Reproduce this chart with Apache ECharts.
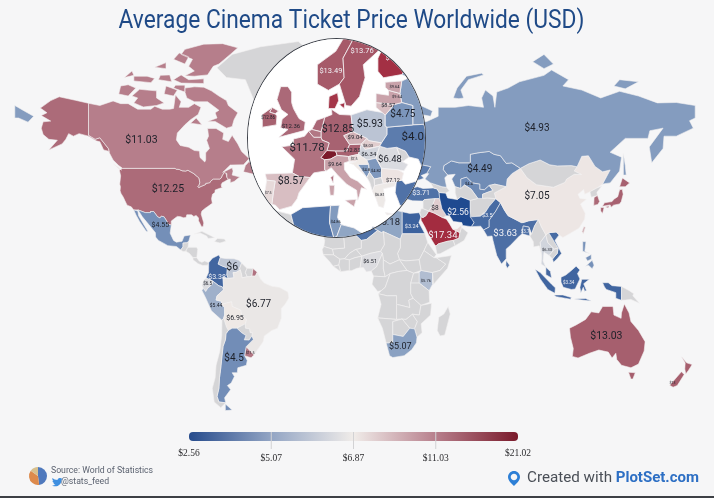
<!DOCTYPE html>
<html>
<head>
<meta charset="utf-8">
<title>Average Cinema Ticket Price Worldwide</title>
<script src="https://cdn.jsdelivr.net/npm/echarts@6/dist/echarts.min.js"></script>
<style>
  html, body { margin: 0; padding: 0; background: #f6f6f7; }
  #main { position: absolute; left: 0; top: 0; width: 714px; height: 498px; }
  #lens { position: absolute; left: 247px; top: 38px; width: 179px; height: 200px; box-sizing: border-box;
          border: 1.5px solid #3c4048; border-radius: 50%; overflow: hidden; background: #fff; }
  #inset { position: absolute; left: -1.5px; top: -1.5px; width: 179px; height: 200px; }
</style>
</head>
<body>
<div id="main"></div>
<div id="lens"><div id="inset"></div></div>
<script>
// prices (USD)
var priceNames = ['Canada', 'USA', 'Mexico', 'Colombia', 'Venezuela', 'Ecuador', 'Peru', 'Brazil', 'Bolivia', 'Argentina', 'Uruguay', 'French Guiana',
    'Algeria', 'Tunisia', 'Libya', 'Egypt', 'Nigeria', 'Kenya', 'South Africa',
    'Saudi Arabia', 'Iraq', 'Iran', 'UAE', 'Turkey', 'Pakistan', 'India', 'Bangladesh', 'Sri Lanka',
    'Russia', 'Kazakhstan', 'Uzbekistan', 'China', 'Taiwan', 'South Korea', 'Japan', 'Thailand', 'Vietnam', 'Malaysia', 'Indonesia', 'Philippines',
    'Australia', 'New Zealand',
    'Norway', 'Sweden', 'Finland', 'Denmark', 'Estonia', 'Latvia', 'Lithuania', 'UK', 'Ireland', 'France', 'Germany', 'Netherlands', 'Belgium', 'Switzerland', 'Austria',
    'Spain', 'Portugal', 'Italy', 'Poland', 'Czechia', 'Slovakia', 'Hungary', 'Slovenia', 'Croatia', 'Bosnia', 'Serbia', 'Romania', 'Bulgaria', 'Greece', 'Belarus', 'Ukraine'];
var priceValues = [11.03, 12.25, 4.55, 3.38, 6, 6.5, 5.44, 6.77, 6.95, 4.5, 11.5, 11.78,
    3.7, 4.86, 5.18, 3.24, 6.51, 5.76, 5.07,
    17.34, 8, 2.56, 7.6, 3.71, 3.5, 3.63, 3.7, 3.6,
    4.93, 4.49, 4.4, 7.05, 9, 12.4, 12.9, 6.33, 3.5, 3.4, 3.34, 4.6,
    13.03, 13,
    13.49, 13.76, 17, 16.5, 9.64, 9.64, 8.57, 12.36, 12.86, 11.78, 12.85, 12.5, 11.5, 21.02, 12.83,
    8.57, 7.5, 9.64, 5.93, 9.04, 8.03, 6.34, 7.5, 6.9, 4.8, 4.82, 6.48, 7.12, 6.81, 4.75, 4];
var priceTexts = { 'Ukraine': '$4.0' };

// colour scale breaks
var colorBreaks = [2.56, 5.07, 6.87, 11.03, 13.03, 17.34, 21.02];
var colorValues = ['#1f4a90', '#8aa1c2', '#f0ebe8', '#b67e8b', '#a65f6e', '#a32c40', '#7b1a2b'];

var legendLabels = ['$2.56', '$5.07', '$6.87', '$11.03', '$21.02'];
var legendColors = ['#264b8c', '#93a5c4', '#f0ece9', '#b77f8c', '#7a1a2b'];

// label anchors [lon, lat] and font sizes, world map
var worldLabels = {
    'Canada': [-113, 58.7, 10.5], 'USA': [-99, 40.8, 10.5], 'Mexico': [-103, 25.6, 7], 'Colombia': [-73, 2, 7], 'Venezuela': [-65, 6.5, 10.5],
    'Ecuador': [-78, -1.5, 4.5], 'Peru': [-73.5, -11.7, 5], 'Brazil': [-51, -11, 10], 'Bolivia': [-63.5, -17.6, 7], 'Argentina': [-64, -35, 10], 'Uruguay': [-55.5, -33, 3.5],
    'Libya': [17.5, 27, 9.5], 'Egypt': [30, 25, 5.5], 'Nigeria': [8, 9, 5.5], 'Kenya': [37.5, 0, 4], 'South Africa': [24, -30, 9],
    'Saudi Arabia': [46.5, 21, 9.5], 'Iraq': [42.3, 33, 6.5], 'Iran': [54.5, 31.3, 8.5], 'Turkey': [35, 39.5, 7], 'Pakistan': [70, 30, 5.5], 'India': [79.5, 22, 9.5], 'Bangladesh': [90, 23, 4.5],
    'Russia': [96.3, 62.5, 10], 'Kazakhstan': [66, 48.5, 10], 'Uzbekistan': [60.3, 43, 4], 'China': [96.3, 38, 10], 'Thailand': [101.6, 14.5, 4], 'Indonesia': [113, -1, 4.5],
    'Australia': [133, -25.6, 10.5], 'New Zealand': [168, -45, 3.5]
};
// label anchors [lon, lat] and font sizes, magnified Europe
var insetLabels = {
    'France': [2.2, 48, 11.5], 'Germany': [10.6, 51.5, 10.5], 'Spain': [-2.2, 41.7, 10.5], 'UK': [-2.2, 52, 6], 'Ireland': [-8.4, 53.5, 4.5],
    'Norway': [8.7, 61, 7.5], 'Sweden': [17.2, 64, 7.5], 'Finland': [25.3, 63, 7.5], 'Estonia': [26, 58.6, 4], 'Latvia': [26.7, 57, 4], 'Lithuania': [24.3, 55.5, 5.5],
    'Poland': [19.3, 52.3, 10.5], 'Belarus': [28.3, 54, 10], 'Ukraine': [31, 50, 11.5], 'Czechia': [15.3, 50, 6], 'Austria': [14.4, 47.5, 5.5], 'Italy': [9.8, 45, 5.5],
    'Slovakia': [18.8, 48.5, 4], 'Hungary': [19, 46.9, 6], 'Romania': [24.8, 46, 9.5], 'Slovenia': [15, 46, 3.5], 'Bosnia': [18.3, 44, 4], 'Serbia': [21, 43.7, 4],
    'Bulgaria': [25.6, 42, 5.5], 'Greece': [22, 39, 4], 'Portugal': [-8.4, 39.5, 3.5], 'Tunisia': [10, 33.5, 4]
};
var lightLabels = ['Colombia', 'Egypt', 'Saudi Arabia', 'Iran', 'Turkey', 'Pakistan', 'India', 'Bangladesh', 'Indonesia', 'Norway', 'Sweden', 'Finland'];

// rough country outlines, [lon, lat]
var outlines = {
    'USA': [[[-124.7,48.4],[-123,49],[-95.2,49],[-94.6,48.7],[-93,48.6],[-91.5,48.1],[-89.6,48],[-88.4,48.3],[-84.9,46.9],[-84.5,46.5],[-83.5,46],[-82.5,45.3],[-82.1,43.6],[-82.5,42.6],[-83.1,42.1],[-82.7,41.7],[-81.2,42.2],[-79,42.9],[-79,43.3],[-76.8,43.6],[-76.3,44.2],[-75,45],[-71.5,45],[-70.8,45.4],[-70.2,46.4],[-69.2,47.45],[-68.3,47.35],[-67.8,47.07],[-67.8,45.7],[-67,44.9],[-69,44],[-70.2,43.6],[-70.8,42.8],[-70.6,41.9],[-70,41.7],[-71.5,41.4],[-74,40.7],[-74.1,39.7],[-75.4,39],[-75.9,37.2],[-76,36.9],[-75.5,35.3],[-77.9,33.9],[-79.2,33.2],[-81,32],[-81.4,30.7],[-80.6,28.5],[-80,26.8],[-80.4,25.2],[-81.2,25.2],[-81.8,26.2],[-82.8,27.8],[-82.8,29],[-84,30.1],[-85.3,29.7],[-86.5,30.4],[-89,30.4],[-89.4,29.2],[-90.8,29.1],[-92.3,29.6],[-94,29.7],[-95.3,28.9],[-97.2,27.7],[-97.2,25.9],[-99.1,26.4],[-99.5,27.5],[-101,29.5],[-102.5,29.8],[-103.2,29],[-104.5,29.6],[-106.5,31.8],[-108.2,31.8],[-108.2,31.33],[-111,31.33],[-114.8,32.5],[-117.1,32.5],[-118.4,33.8],[-120.6,34.5],[-121.9,36.6],[-122.5,37.7],[-123.8,39.3],[-124.3,40.4],[-124.1,42],[-124.5,43],[-124,46.2]],
        [[-141,69.6],[-148,70.4],[-156.5,71.3],[-161,70.3],[-166.5,68.3],[-163,67],[-166,66.2],[-161,64.6],[-165,64.4],[-166,62.5],[-165,60.5],[-162,59],[-157.5,58.7],[-162,55.5],[-155,57.5],[-153,59],[-151.5,60.8],[-149,60],[-146,60.8],[-141,60],[-137,58.5],[-135,58.2],[-133,55.5],[-130,55],[-130.5,56],[-135,59.5],[-137.5,59],[-141,60.3]]],
    'Canada': [[[-141,69.6],[-135,69],[-128,70.2],[-124,69.5],[-120,69.5],[-115,68],[-108,68],[-106,68.8],[-102,68],[-98,68],[-96,68.2],[-95,71.8],[-92,70],[-93,68.5],[-88,68.5],[-85,69.5],[-81.5,68.5],[-83,66.5],[-87,65],[-90,63.5],[-94,61],[-94.5,58.8],[-92.5,57],[-88,56.4],[-85,55.3],[-82.3,55.1],[-82,52.9],[-79.5,51.3],[-79,52],[-79,54.5],[-77,56],[-78.5,58.7],[-77.5,60],[-78,62.4],[-73.5,62.4],[-69.5,61],[-70,59],[-67,58.3],[-65,60.3],[-62,57.5],[-60,55],[-56,52.5],[-59,50.3],[-66,50.2],[-70,47.5],[-65,49.2],[-64.5,48],[-65,46.5],[-61,45.8],[-64,44],[-66,43.6],[-66,45],[-67,44.9],[-67.8,45.7],[-67.8,47.07],[-68.3,47.35],[-69.2,47.45],[-70.2,46.4],[-70.8,45.4],[-71.5,45],[-75,45],[-76.3,44.2],[-76.8,43.6],[-79,43.3],[-79,42.9],[-81.2,42.2],[-82.7,41.7],[-83.1,42.1],[-82.5,42.6],[-82.1,43.6],[-82.5,45.3],[-83.5,46],[-84.5,46.5],[-84.9,46.9],[-88.4,48.3],[-89.6,48],[-91.5,48.1],[-93,48.6],[-94.6,48.7],[-95.2,49],[-123,49],[-125,50],[-128,52],[-130,54.5],[-130,55],[-130.5,56],[-135,59.5],[-137.5,59],[-141,60.3]],
        [[-90,73.5],[-85,73.8],[-80,73.7],[-76,72.8],[-72,71.5],[-68,70.3],[-67,69],[-62,67],[-64,65],[-65,63],[-68,62.5],[-71,63.5],[-74,64.5],[-78,64.5],[-73,65.5],[-74,67],[-72,67.7],[-78,70],[-85,70],[-89,71],[-90,72.5]],
        [[-117,69.7],[-112,68.6],[-105,69],[-101,69.7],[-105,71],[-105,72.8],[-110,73],[-114,73.2],[-118,71.5],[-115,71]],
        [[-125,72],[-120,71.5],[-116,73.5],[-120,74.3],[-124,74]],
        [[-90,76.4],[-85,76.3],[-78,76.6],[-75,78.5],[-72,79],[-66,81],[-62,82.3],[-70,83.1],[-80,83],[-90,82],[-92,81],[-86,80],[-88,78.5],[-85,77.5]],
        [[-96,80],[-90,79],[-88,80.5],[-93,81.3]],
        [[-96,75.5],[-92,74.7],[-80,74.6],[-80,75.7],[-88,75.5],[-92,76.6]],
        [[-104,75.5],[-97,75],[-98,76.6],[-103,76.5]],
        [[-117,75.2],[-108,74.8],[-106,75.8],[-110,76.3],[-117,76.3]],
        [[-122,76],[-117,76.5],[-118,77.5]],
        [[-106,78.3],[-100,78],[-100,79.3]],
        [[-101,72],[-96,71.5],[-94,73],[-100,74]],
        [[-96,73.5],[-90,72.5],[-90,74.2],[-95,74.2]],
        [[-87,64],[-81,63.5],[-84,65.5]],
        [[-59,47.7],[-53,46.7],[-53,48.5],[-56,51.5],[-58,50]],
        [[-128,50.7],[-123.5,48.4],[-125,49]]],
    'Greenland': [[[-73,78.2],[-68,76],[-58,75.5],[-54,71],[-51,68],[-53,66],[-50,62],[-44,60],[-42,62],[-37,65.8],[-30,68],[-22,70.5],[-21,73],[-18,76],[-19,80],[-30,83.5],[-50,82.5],[-65,81]]],
    'Mexico': [[[-114.8,32.5],[-111,31.33],[-108.2,31.33],[-108.2,31.8],[-106.5,31.8],[-104.5,29.6],[-103.2,29],[-102.5,29.8],[-101,29.5],[-99.5,27.5],[-99.1,26.4],[-97.2,25.9],[-97.8,22.3],[-96,19],[-94.5,18.2],[-91.5,18.6],[-90.4,21],[-87,21.5],[-88,18.5],[-89,17.9],[-91,17.8],[-91,16],[-92.2,14.6],[-94.5,16.2],[-99,16.6],[-104,19],[-105.5,20.5],[-105.6,22.5],[-109,26],[-112.5,29.5]],
        [[-117.1,32.5],[-114.9,32],[-114.5,30],[-112,26.5],[-109.5,23],[-110.5,23.2],[-114,27.5],[-115.8,30.2]]],
    'Guatemala': [[[-92.2,14.6],[-91,16],[-91,17.8],[-89,17.9],[-88,18.5],[-88.3,16],[-88.5,15.8],[-89.5,14],[-91,13.9]]],
    'Honduras': [[[-89.5,14],[-88.5,15.8],[-84,15.8],[-83.2,15],[-83.7,11],[-85.7,11],[-87.6,13]]],
    'Costa Rica': [[[-85.7,11],[-83.7,11],[-82.5,9.5],[-81,8.8],[-79.5,9.5],[-77.4,8.6],[-78,7.5],[-80.5,7.3],[-83,8.2],[-85.7,10]]],
    'Cuba': [[[-85,21.9],[-81,23.1],[-76,21],[-74.2,20.2],[-77.7,19.9],[-78.5,21],[-82,22.4]]],
    'Hispaniola': [[[-74.4,18.5],[-72.8,19.9],[-69,19.6],[-68.4,18.6],[-71.5,17.8]]],
    'Colombia': [[[-77.4,8.6],[-75.5,10.7],[-72,12.3],[-71.3,11],[-72.4,8],[-70,7],[-67.5,6.2],[-67.8,2.8],[-67,1.2],[-69.8,1.7],[-69.5,-4.2],[-70.3,-2.7],[-72,-2.3],[-75.3,0],[-78.8,1.4],[-77.5,4],[-77.4,7]]],
    'Venezuela': [[[-71.3,11],[-68.5,10.6],[-64,10.5],[-61.5,9.8],[-60,8.5],[-61,6],[-60.7,5.2],[-63,4],[-64.5,4],[-64,1.5],[-67,1.2],[-67.8,2.8],[-67.5,6.2],[-70,7],[-72.4,8]]],
    'Guyana': [[[-60,8.5],[-57.2,6],[-58,4],[-57,2],[-59.8,1.5],[-60,3],[-60.7,5.2],[-61,6]]],
    'Suriname': [[[-57.2,6],[-54,5.9],[-54.5,2.3],[-56,2],[-57,2],[-58,4]]],
    'French Guiana': [[[-54,5.9],[-51.7,4.2],[-52.7,2.3],[-54.5,2.3]]],
    'Ecuador': [[[-80.3,-3.4],[-81,-2],[-80,0.5],[-78.8,1.4],[-75.3,0],[-75.5,-1.5],[-78,-3.5],[-79,-5]]],
    'Peru': [[[-81,-4.5],[-80.3,-3.4],[-79,-5],[-78,-3.5],[-75.5,-1.5],[-75.3,0],[-72,-2.3],[-70.3,-2.7],[-69.5,-4.2],[-73,-7],[-73.5,-9],[-70.6,-9.6],[-70.6,-11],[-69,-12.5],[-69,-16],[-69.5,-17.5],[-70.4,-18.4],[-76,-14],[-79,-8]]],
    'Brazil': [[[-51.7,4.2],[-50,1],[-48,-1],[-44,-2.5],[-40,-3],[-35.5,-5.2],[-35,-8],[-37,-11],[-39,-13],[-39,-17.5],[-41,-22],[-44,-23],[-48,-25.5],[-48.6,-28],[-52,-32],[-53.4,-33.7],[-57.6,-30.2],[-53.8,-27],[-54.6,-25.5],[-54.3,-24],[-55.5,-24],[-55.8,-22.3],[-58,-22],[-58,-20],[-57.5,-18],[-60,-16.2],[-60.5,-13.7],[-65,-12],[-65.3,-9.8],[-70.6,-11],[-70.6,-9.6],[-73.5,-9],[-73,-7],[-69.5,-4.2],[-69.8,1.7],[-67,1.2],[-64,1.5],[-64.5,4],[-63,4],[-60.7,5.2],[-60,3],[-59.8,1.5],[-57,2],[-56,2],[-54.5,2.3],[-52.7,2.3]]],
    'Bolivia': [[[-70.6,-11],[-65.3,-9.8],[-65,-12],[-60.5,-13.7],[-60,-16.2],[-57.5,-18],[-58,-20],[-62.5,-22],[-65,-22],[-67,-23],[-68,-21.5],[-69.5,-17.5],[-69,-16],[-69,-12.5]]],
    'Paraguay': [[[-58,-20],[-58,-22],[-55.8,-22.3],[-55.5,-24],[-54.3,-24],[-54.6,-25.5],[-56,-27.3],[-58.6,-27.2],[-57.7,-25.3],[-60,-24],[-62.5,-22]]],
    'Uruguay': [[[-57.6,-30.2],[-53.4,-33.7],[-55,-34.9],[-58.4,-34]]],
    'Argentina': [[[-67,-23],[-65,-22],[-62.5,-22],[-60,-24],[-57.7,-25.3],[-58.6,-27.2],[-56,-27.3],[-54.6,-25.5],[-53.8,-27],[-57.6,-30.2],[-58.4,-34],[-57,-36],[-57.5,-38],[-62,-39],[-62.3,-41],[-65,-41],[-63.8,-42.5],[-65.5,-45],[-67.5,-46],[-65.8,-47.5],[-69,-50.5],[-68.4,-52.3],[-72,-52],[-73,-50],[-72,-47],[-71.7,-43],[-71,-39],[-70.5,-35],[-69.8,-30],[-68.5,-27],[-68.3,-24.5]],
        [[-68.6,-52.7],[-65,-54.8],[-68.6,-55]]],
    'Chile': [[[-70.4,-18.4],[-69.5,-17.5],[-68,-21.5],[-67,-23],[-68.3,-24.5],[-68.5,-27],[-69.8,-30],[-70.5,-35],[-71,-39],[-71.7,-43],[-72,-47],[-73,-50],[-72,-52],[-68.4,-52.3],[-71,-54],[-74.5,-52],[-75.5,-47],[-74,-43],[-73.5,-38],[-71.5,-32],[-70.5,-25]]],
    'Morocco': [[[-5.9,35.8],[-2.2,35.1],[-1.2,32.2],[-3.6,30.5],[-8.7,28.7],[-8.7,27.7],[-13,27.7],[-10,29.5],[-9.8,31.5],[-8.5,33.3],[-6.8,34.2]]],
    'Western Sahara': [[[-13,27.7],[-8.7,27.7],[-8.7,26],[-12,26],[-12,23.5],[-13,21.3],[-17,21.3],[-16,23.5],[-14.5,26]]],
    'Algeria': [[[-2.2,35.1],[1,36.5],[8.6,36.9],[8.3,33.5],[9.5,30.2],[10,24.5],[12,23.5],[6,19.4],[3.3,19],[1.2,20.7],[-4.8,25],[-8.7,27.7],[-8.7,28.7],[-3.6,30.5],[-1.2,32.2]]],
    'Tunisia': [[[8.6,36.9],[11,37],[10.5,34.5],[11.5,33],[10.3,30.5],[9.5,30.2],[8.3,33.5]]],
    'Libya': [[[11.5,33],[15,32.3],[19,30.3],[20,32.6],[25,31.7],[25,22],[24,19.5],[15,23],[14,22.5],[12,23.5],[10,24.5],[9.5,30.2],[10.3,30.5]]],
    'Egypt': [[[25,31.7],[29,31],[34,31.3],[34.9,29.5],[33.8,27],[37,22],[25,22]]],
    'Sudan': [[[25,22],[37,22],[38.5,18],[36.5,14.3],[34,10],[27,9.5],[23.5,10],[22.5,13],[24,15.7],[24,19.5]]],
    'South Sudan': [[[34,10],[35,5],[31,3.7],[27.5,5],[23.5,10],[27,9.5]]],
    'Chad': [[[24,19.5],[24,15.7],[22.5,13],[23.5,10],[18.5,8],[15,10],[14.5,13],[13.5,14],[15.5,17],[15,23]]],
    'Niger': [[[12,23.5],[14,22.5],[15,23],[15.5,17],[13.5,14],[8,13],[3.6,11.7],[0.5,14.9],[3.3,15.4],[3.3,19],[6,19.4]]],
    'Mali': [[[-4.8,25],[1.2,20.7],[3.3,19],[3.3,15.4],[0.5,14.9],[-3,13],[-5.5,10.5],[-8,10.3],[-11.3,12.3],[-12,15],[-5.5,15.5],[-6.5,25]]],
    'Mauritania': [[[-8.7,27.7],[-4.8,25],[-6.5,25],[-5.5,15.5],[-12,15],[-16.5,16.2],[-16,19],[-17,21.3],[-13,21.3],[-12,23.5],[-12,26],[-8.7,26]]],
    'Senegal': [[[-16.5,16.2],[-12,15],[-11.3,12.3],[-16.8,12.4],[-17.4,14.7]]],
    'Guinea': [[[-16.8,12.4],[-11.3,12.3],[-8,10.3],[-8.5,7.6],[-11.5,6.9],[-13.3,9]]],
    'Liberia': [[[-11.5,6.9],[-8.5,7.6],[-7.5,4.4]]],
    'Ivory Coast': [[[-8.5,7.6],[-8,10.3],[-5.5,10.5],[-3,10],[-3,5],[-7.5,4.4]]],
    'Burkina Faso': [[[-5.5,10.5],[-3,13],[0.5,14.9],[3.6,11.7],[0,11],[-3,10]]],
    'Ghana': [[[-3,10],[0,11],[3.6,11.7],[2.7,6.3],[1,6],[-2,4.8],[-3,5]]],
    'Nigeria': [[[2.7,6.3],[3.6,11.7],[8,13],[13.5,14],[14.5,13],[11.5,6.8],[8.6,4.7],[6,4.3],[4.5,6.3]]],
    'Cameroon': [[[8.6,4.7],[11.5,6.8],[14.5,13],[15,10],[15,6],[16,2],[9.8,2.3]]],
    'Central African Rep.': [[[15,6],[15,10],[18.5,8],[23.5,10],[27.5,5],[23,4.5],[18.6,3.5],[16,2]]],
    'Gabon': [[[9.8,2.3],[16,2],[18.6,3.5],[16,-3],[14,-4.5],[12,-5],[9,-1.5]]],
    'DR Congo': [[[18.6,3.5],[23,4.5],[27.5,5],[31,3.7],[29.5,-1],[29.5,-6],[30.8,-8.2],[28.5,-9],[29,-12.5],[22,-11],[22,-7],[17,-7],[12.3,-6],[14,-4.5],[16,-3]]],
    'Uganda': [[[31,3.7],[34,4],[34,-1],[29.5,-1]]],
    'Kenya': [[[35,5],[41,4],[41,-1.6],[39.2,-4.6],[34,-1],[34,4]]],
    'Eritrea': [[[38.5,18],[43,12.5],[41.8,11],[36.5,14.3]]],
    'Ethiopia': [[[36.5,14.3],[41.8,11],[43,11],[48,8],[45,5],[41,4],[35,5],[34,10]]],
    'Somalia': [[[43,11],[51,12],[49,6],[41.5,-1.6],[41,-1.6],[41,4],[45,5],[48,8]]],
    'Tanzania': [[[34,-1],[39.2,-4.6],[39.5,-10],[34.9,-11.5],[30.8,-8.2],[29.5,-6],[29.5,-1]]],
    'Zambia': [[[22,-11],[29,-12.5],[28.5,-9],[30.8,-8.2],[34.9,-11.5],[34,-16],[30.4,-15.6],[27,-18],[22,-18]]],
    'Angola': [[[12.3,-6],[17,-7],[22,-7],[22,-11],[22,-18],[12,-17.3],[13.8,-11]]],
    'Namibia': [[[12,-17.3],[22,-18],[25,-17.8],[20,-19],[20,-28.5],[16.5,-28.6],[14.5,-22]]],
    'Botswana': [[[20,-19],[25,-17.8],[29,-22],[25.5,-25.7],[20,-24.8]]],
    'Zimbabwe': [[[25,-17.8],[27,-18],[30.4,-15.6],[33,-19],[31.5,-22.3],[29,-22]]],
    'Mozambique': [[[34.9,-11.5],[40.5,-10.5],[40,-16],[35,-20],[35.5,-24],[32.8,-26],[31.5,-22.3],[33,-19],[30.4,-15.6],[34,-16]]],
    'South Africa': [[[16.5,-28.6],[20,-28.5],[20,-24.8],[25.5,-25.7],[29,-22],[31.5,-22.3],[32.8,-26],[32.5,-28.5],[30,-31.5],[26,-34],[20,-34.8],[18.3,-34]]],
    'Madagascar': [[[49.3,-12],[50.4,-15.5],[47.5,-25],[45,-25.5],[43.5,-23],[44.3,-17],[47,-15.5]]],
    'Turkey': [[[26.2,39.5],[27.5,37],[30.5,36.3],[36,36.2],[36.7,36.8],[42.3,37.2],[44.8,37.2],[44.5,39.7],[43.5,41.1],[41.5,41.5],[36,41.3],[33,42],[29,41.2],[28,42],[26.5,41.7]]],
    'Saudi Arabia': [[[34.9,29.5],[36,29.2],[37.5,30],[39,32],[42,31.1],[46.5,29.1],[48.4,28.5],[50,26.5],[51.6,24.2],[55.5,22.5],[55,20],[52,19],[49,18.6],[44,17.4],[43.2,16.7],[42.5,16.5],[39,21.5],[37,25],[35,28]]],
    'Iraq': [[[39,32],[42,31.1],[46.5,29.1],[48.4,30],[46,33],[44.8,37.2],[42.3,37.2],[41,34.5]]],
    'Syria': [[[36,36.2],[36.7,36.8],[42.3,37.2],[41,34.5],[39,32],[36,33]]],
    'Jordan': [[[36,33],[39,32],[37.5,30],[36,29.2],[34.9,29.5],[34.3,31.3],[35,33]]],
    'Iran': [[[44.5,39.7],[48,39.5],[49,37.5],[54,36.8],[56,38],[61,36.5],[61,31.5],[63,27],[61.6,25.2],[57,25.7],[56.5,27],[52,27.5],[50,30],[48.4,30],[46,33],[44.8,37.2]]],
    'Yemen': [[[42.5,16.5],[43.2,16.7],[44,17.4],[49,18.6],[52,19],[53,16.6],[45,12.8],[43.4,12.7]]],
    'Oman': [[[55,20],[55.5,22.5],[56.3,24.9],[59.8,22.5],[57.7,18.9],[53,16.6],[52,19]]],
    'UAE': [[[51.6,24.2],[54,24.2],[56.3,25.8],[56.3,24.9],[55.5,22.5]]],
    'Afghanistan': [[[61,36.5],[65,37.3],[70,37.5],[74.5,37.2],[71,34],[69,31.5],[66.3,29.8],[61,29.5],[61,31.5]]],
    'Pakistan': [[[61.6,25.2],[63,27],[61,29.5],[66.3,29.8],[69,31.5],[71,34],[74.5,37.2],[77,35.5],[74.5,32],[71,28],[71,25],[68,23.7],[66.5,25.4]]],
    'India': [[[68,23.7],[71,25],[71,28],[74.5,32],[77,35.5],[79,32.5],[81,30],[88,27],[89,27],[92,27.8],[97,28.3],[95,25.5],[93.5,22],[92,25],[89,25.5],[88.5,22],[87,21],[82,16.5],[80,15],[80,10.5],[77.5,8],[75,12],[73,19],[72.5,21],[70,20.8]]],
    'Bangladesh': [[[88.5,22],[89,25.5],[92,25],[92.5,21]]],
    'Sri Lanka': [[[80,9.7],[81.8,7.5],[80.6,6],[79.8,7.5]]],
    'Myanmar': [[[92.5,21],[93.5,22],[95,25.5],[97,28.3],[98.7,25],[101,21.5],[98,18],[98.8,12],[97.5,16.5],[94.5,16],[94.3,18.5]]],
    'Thailand': [[[98,18],[101,21.5],[102,18],[105.5,15],[102.8,12],[100,13.5],[99.5,9.5],[101,6.5],[98.5,8],[98.8,12]]],
    'Laos': [[[101,21.5],[102.5,22.5],[105,19],[107.5,15.5],[105.5,15],[102,18]]],
    'Vietnam': [[[102.5,22.5],[106.5,22.8],[108,21.5],[105.8,19],[109.3,13],[107,10.5],[105,8.8],[104.5,10.4],[107,13],[107.5,15.5],[105,19]]],
    'Cambodia': [[[102.8,12],[105.5,15],[107.5,15.5],[107,13],[104.5,10.4]]],
    'Malaysia': [[[101,6.5],[103.4,4.5],[104,1.4],[101,3]]],
    'Indonesia': [[[95.3,5.6],[98,4],[104,-1.5],[106,-3.2],[105.8,-5.8],[102,-4],[98,1]],
        [[105.3,-6.6],[110,-6.6],[114.5,-7.8],[114,-8.6],[106.5,-7.4]],
        [[109,1.8],[111.5,2.8],[114,4.6],[117,7],[119,5.2],[117.7,3.5],[119,1],[116.5,-3.8],[114.5,-4],[110.2,-3],[109,-0.5]],
        [[119.5,-5.5],[120.8,-3],[121.5,-4.8],[122.5,-4.5],[121,-1.3],[124,0.8],[120,0.8],[119,-3]],
        [[116,-8.5],[122,-8.3],[125,-9.5],[120,-9]],
        [[131,-0.8],[134,-0.8],[136,-2.2],[141,-2.6],[141,-9.1],[138,-8.2],[138,-5.5],[133,-4],[132,-2.8]]],
    'Papua New Guinea': [[[141,-2.6],[145,-4.5],[147.5,-6],[147,-7],[150.5,-10.5],[146,-8.7],[143,-9],[141,-9.1]]],
    'Philippines': [[[120.5,18.5],[122.2,18.4],[121.6,14],[124,13],[120.5,14]],
        [[122,7],[125.5,9.8],[126.5,7.5],[125.5,5.8],[123.5,7.5]],
        [[122,11],[125,12.5],[125,10.3],[123,9.5]]],
    'China': [[[73.7,39.5],[80,42],[80.5,45],[83,47],[87.5,49],[91,45.5],[96,42.8],[105,41.8],[111,43.7],[112,45],[116,46.8],[119.8,46.7],[116,48],[117.5,49.6],[120,53.3],[123.5,53.5],[127,49.7],[131,47.7],[135,48.4],[131,43],[128,41.5],[124.3,40],[121.5,39],[121,40.9],[118,39],[119,37.3],[122.5,37],[119.3,35],[121.8,31],[121.5,28.5],[118.5,24.5],[114,22.3],[110,20.3],[108,21.5],[106.5,22.8],[102.5,22.5],[101,21.5],[98.7,25],[97,28.3],[92,27.8],[89,27],[88,27],[81,30],[79,32.5],[77,35.5],[74.5,37.2]]],
    'Mongolia': [[[87.5,49],[92,50.7],[98,52],[103,50.3],[107,49.9],[114.5,50],[117.5,49.6],[116,48],[119.8,46.7],[116,46.8],[112,45],[111,43.7],[105,41.8],[96,42.8],[91,45.5]]],
    'North Korea': [[[124.3,40],[128,41.5],[130.6,42.3],[128,39.8],[128.3,38.5],[125,37.8]]],
    'South Korea': [[[126.5,37.7],[128.3,38.5],[129.4,36],[128.5,34.8],[126.3,34.4]]],
    'Japan': [[[130.9,34],[132,35.5],[136,36],[137,37],[139,38],[140,40.8],[141.4,41],[141.9,39],[140.9,36],[140,35],[136.8,34.5],[135.5,33.6],[135,34.6]],
        [[140,42],[141.5,45.4],[145.3,43.5],[143,42]],
        [[130,33.5],[131.8,33.5],[131,31],[130,32]],
        [[132.5,33.7],[134.5,34.2],[134,33.3]]],
    'Taiwan': [[[121,25.2],[122,25],[120.8,22],[120.1,23]]],
    'Kazakhstan': [[[46.7,48.5],[49,46.5],[53,46.8],[51.2,45],[53,42],[56,41.3],[56,45],[59,45.7],[62,43.5],[66,43],[66,41],[68.5,40.8],[71,42.5],[74,43],[80,42],[80.5,45],[83,47],[87.5,49],[83,51],[80,50.8],[77,53.5],[73.5,54],[71,55],[65,54.5],[61,54],[61,51],[55,51],[51,51.7],[47,50]]],
    'Uzbekistan': [[[56,41.3],[56,45],[59,45.7],[62,43.5],[66,43],[66,41],[68.5,40.8],[71,42.5],[73,40.5],[71,40],[67.5,39],[67.5,37.3],[65,37.3],[61.5,41],[58,42.7]]],
    'Turkmenistan': [[[53,42],[56,41.3],[58,42.7],[61.5,41],[65,37.3],[61,36.5],[56,38],[54,36.8],[53,39.5]]],
    'Kyrgyzstan': [[[71,42.5],[74,43],[80,42],[73.7,39.5],[74.5,37.2],[70,37.5],[67.5,37.3],[67.5,39],[71,40],[73,40.5]]],
    'Caucasus': [[[40,43.5],[46,42],[48.5,41.8],[50,40.3],[48,39.5],[44.5,39.7],[43.5,41.1],[41.5,41.5]]],
    'Russia': [[[30,69.8],[33,69.4],[41,67.5],[40,66],[35,66.5],[35,64.3],[38,64.5],[40,65],[44,66],[44,68.5],[53,68.5],[60,69],[68,68.5],[67,71],[69,73],[73,71.5],[74,68.5],[75,72.5],[81,73.5],[87,75],[100,76.5],[104,77.7],[113,75.5],[110,74],[120,73],[130,71],[140,72.7],[150,71.5],[160,69.7],[170,69.8],[180,69],[180,65.5],[177,64.7],[179,62.5],[170,60],[163.5,60],[163,56],[157,51],[155.7,56.5],[163,62.5],[156,61.7],[155,59.3],[143,59.3],[135,54.7],[141,53],[140,48],[135,43.5],[132,43.2],[131,43],[135,48.4],[131,47.7],[127,49.7],[123.5,53.5],[120,53.3],[117.5,49.6],[114.5,50],[107,49.9],[103,50.3],[98,52],[92,50.7],[87.5,49],[83,51],[80,50.8],[77,53.5],[73.5,54],[71,55],[65,54.5],[61,54],[61,51],[55,51],[51,51.7],[47,50],[46.7,48.5],[49,46.5],[47.5,45.5],[48.5,41.8],[46,42],[40,43.5],[37,45],[39,47],[38,47.2],[40,49.6],[35,50.3],[34,52.3],[31,52.2],[31,55.5],[28,56],[27.5,57.5],[28,59.5],[30,60],[28,60.5],[30,62],[31,63],[29,67],[29,69.2]],
        [[-180,69],[-175,67.5],[-170,66],[-173,64.3],[-178,65.5],[-180,65.5]],
        [[142,54.3],[143,50],[143.5,46.5],[142,46.5],[142,50]],
        [[52,71],[55,70.8],[57.5,71],[56,73],[60,75.5],[68,76.6],[67,77],[59,76.3],[54,73.5]],
        [[94,79.5],[100,78],[105,79],[100,81]],
        [[137,74],[143,73.3],[150,75],[140,75.5]]],
    'Australia': [[[113.5,-22],[114,-26],[115.5,-31],[115,-34.3],[118,-35],[124,-33],[129,-31.6],[134,-32.5],[136,-35],[138,-33],[138.5,-35.6],[141,-38],[146,-39],[150,-37.5],[153,-32],[153.5,-28],[150,-23],[146,-19],[145,-15],[142.5,-10.8],[141,-15],[140.8,-17.5],[137,-16],[136.5,-12],[131,-12],[129,-15],[125,-14.5],[122,-18],[117,-20.5]],
        [[144.7,-40.8],[148.3,-41],[147,-43.5],[146,-43.5]]],
    'New Zealand': [[[172.7,-34.5],[175.5,-37],[178.4,-37.7],[176.5,-40],[175,-41.5],[174.5,-39.5],[174.7,-37]],
        [[172.7,-40.6],[174.2,-41.7],[170.5,-46],[168.3,-46.6],[166.5,-45.9]]],
    'Norway': [[[5,59],[5,62],[10,64],[14,67.5],[19,69.8],[25,71],[31,70],[29,69.2],[25,68.8],[20,69],[16,67],[14,65],[12,63],[12.3,60],[11,59],[8,58]]],
    'Sweden': [[[11,59],[12.3,60],[12,63],[14,65],[16,67],[20,69],[23.5,67.9],[24,65.8],[21.5,64],[17.5,62],[18,60],[16.5,57],[14.2,55.4],[12.8,55.5]]],
    'Finland': [[[20,69],[25,68.8],[29,69.2],[29,67],[31,63],[30,62],[28,60.5],[23,60],[21.5,61],[21.5,63],[24,65.8],[23.5,67.9]]],
    'Denmark': [[[8,55],[8.2,57],[10.5,57.6],[10.8,56.3],[9.8,55]],
        [[11,55.7],[12.5,56],[12.3,55]]],
    'Germany': [[[6,51],[7,53.5],[9,54],[8.8,54.9],[11,54],[14.2,53.9],[14.7,51],[12.2,50.3],[13.8,48.7],[13,47.5],[10,47.5],[7.6,47.6],[8.2,49],[6.3,49.5],[6,50]]],
    'Netherlands': [[[3.5,51.4],[4.8,53],[7,53.5],[6,51]]],
    'Belgium': [[[2.6,51.1],[3.5,51.4],[6,51],[6,50],[4,50]]],
    'France': [[[2.6,51.1],[4,50],[6,50],[6.3,49.5],[8.2,49],[7.6,47.6],[6,46.3],[7,45.9],[7,44],[7.5,43.8],[4,43.4],[3,42.5],[0,42.7],[-1.8,43.4],[-1.2,46],[-4.7,48.3],[-1.5,48.6],[-1.5,49.7],[1.5,50.2]],
        [[8.6,42.5],[9.5,43],[9.3,41.4]]],
    'Switzerland': [[[6,46.3],[7.6,47.6],[10,47.5],[10.4,46.7],[8.5,46],[7,45.9]]],
    'Austria': [[[10,47.5],[13,47.5],[13.8,48.7],[17,48.8],[16.2,46.9],[13.5,46.5],[10.4,46.7]]],
    'Italy': [[[7,44],[7,45.9],[8.5,46],[10.4,46.7],[13.5,46.5],[13.7,45.6],[12.3,45.3],[12.4,44],[14,42.5],[16,41.8],[18.4,40.2],[17,40.5],[16.5,39],[16,38],[15.7,40],[13,41.2],[10.5,43],[8.8,44.4],[7.5,43.8]],
        [[12.5,38],[15.6,38.2],[15,36.7]],
        [[8.2,41],[9.7,41],[9.5,39],[8.5,39]]],
    'Spain': [[[-9.2,43.2],[-1.8,43.4],[0,42.7],[3,42.5],[0,39.5],[-0.5,38.3],[-2,36.8],[-5.3,36.1],[-6.4,37],[-7.4,37.2],[-7,39.5],[-6.5,41.8],[-8.8,42]]],
    'Portugal': [[[-8.8,42],[-6.5,41.8],[-7,39.5],[-7.4,37.2],[-9,37],[-9.5,38.8]]],
    'UK': [[[-5.5,50],[1.4,51.2],[1.7,52.7],[0,53.3],[-1.5,55],[-2,56],[-2,57.7],[-3,58.6],[-5,58.6],[-6,56.5],[-4.8,54.8],[-3,54],[-4.6,53.2],[-5,51.7],[-3,51.4]],
        [[-7.3,55.2],[-5.6,54.6],[-6.5,54.1],[-8,54.4]]],
    'Ireland': [[[-10,51.8],[-6.2,52.2],[-6,53.8],[-6.5,54.1],[-8,54.4],[-7.3,55.2],[-10,54]]],
    'Poland': [[[14.2,53.9],[18.5,54.8],[23,54.3],[23.5,53.9],[23.5,52],[24,51.8],[24,50.5],[22.5,49],[19,49.4],[18.5,49.8],[14.7,51]]],
    'Czechia': [[[12.2,50.3],[14.7,51],[18.5,49.8],[17,48.8],[13.8,48.7]]],
    'Slovakia': [[[17,48.8],[18.5,49.8],[19,49.4],[22.5,49],[22,48.4],[18,47.8]]],
    'Hungary': [[[16.2,46.9],[17,48.8],[18,47.8],[22,48.4],[21,46.2],[18.5,45.8]]],
    'Slovenia': [[[13.5,46.5],[16.2,46.9],[15.5,45.5],[13.7,45.6]]],
    'Croatia': [[[13.7,45.3],[15.5,45.5],[16.2,46.9],[18.5,45.8],[19,45],[16,45],[18.5,42.5],[14.8,45]]],
    'Bosnia': [[[16,45],[19,45],[19.2,43.5],[18.5,42.5]]],
    'Serbia': [[[19,45],[18.5,45.8],[21,46.2],[22.5,44.3],[22.5,42.5],[20.5,42.2],[19.2,43.5]]],
    'Albania': [[[18.5,42.5],[19.2,43.5],[20.5,42.2],[20.6,40.9],[20,39.8],[19.3,41.5]]],
    'Macedonia': [[[20.5,42.2],[22.5,42.5],[23,41.3],[20.6,40.9]]],
    'Bulgaria': [[[22.5,44.3],[27,44],[28.5,43.4],[28,42],[26.5,41.7],[23,41.3],[22.5,42.5]]],
    'Romania': [[[21,46.2],[22,48.4],[24,48],[26.6,48.2],[28,45.6],[29.7,45],[28.6,43.8],[27,44],[22.5,44.3]]],
    'Moldova': [[[26.6,48.2],[29,47.5],[30,46.4],[28.2,45.5],[28,45.6]]],
    'Greece': [[[20,39.8],[20.6,40.9],[23,41.3],[26.5,41.7],[26,40.8],[23,40.3],[23.5,38],[23,36.5],[21.7,36.8],[21,38.3]],
        [[23.5,35.5],[26.2,35.2],[24,35]]],
    'Ukraine': [[[24,51.8],[31,52.2],[34,52.3],[35,50.3],[40,49.6],[38,47.2],[35,46.3],[36.5,45.3],[33.5,44.5],[32.5,46],[30,46.4],[29,47.5],[26.6,48.2],[24,48],[22,48.4],[22.5,49],[24,50.5]]],
    'Belarus': [[[23.5,52],[24,51.8],[31,52.2],[31,55.5],[28,56],[26,55.7],[23.5,53.9]]],
    'Lithuania': [[[21,56],[26,55.7],[23.5,53.9],[21,55.2]]],
    'Latvia': [[[21,57.5],[24.4,57.2],[24.4,58],[27.5,57.5],[28,56],[26,55.7],[21,56]]],
    'Estonia': [[[23.5,58.5],[23.5,59.3],[28,59.5],[27.5,57.5],[24.4,58]]]
};

var noDataColor = '#d5d5d7';
var pageColor = '#f6f6f7';
var labelFont = 'Roboto, sans-serif';

function priceColor(v) {
    for (var i = 1; i < colorBreaks.length; i++) {
        if (v <= colorBreaks[i]) {
            var t = (v - colorBreaks[i - 1]) / (colorBreaks[i] - colorBreaks[i - 1]);
            return echarts.color.lerp(t, [colorValues[i - 1], colorValues[i]]);
        }
    }
    return colorValues[colorValues.length - 1];
}

// Miller cylindrical, stretched to the picture's pixel scale
function miller(cx, sx, cy, sy) {
    var rad = Math.PI / 180;
    return {
        project: function (p) {
            var m = 1.25 * Math.log(Math.tan(Math.PI / 4 + 0.4 * p[1] * rad));
            return [cx + sx * p[0], cy - sy * m];
        },
        unproject: function (p) {
            var m = (cy - p[1]) / sy;
            return [(p[0] - cx) / sx, (2.5 * Math.atan(Math.exp(0.8 * m)) - 0.625 * Math.PI) / rad];
        }
    };
}

function buildGeoJson(labels) {
    var features = Object.keys(outlines).map(function (name) {
        var props = { name: name };
        if (labels[name]) props.cp = [labels[name][0], labels[name][1]];
        return {
            type: 'Feature',
            properties: props,
            geometry: {
                type: 'MultiPolygon',
                coordinates: outlines[name].map(function (ring) {
                    return [ring.concat([ring[0]])];
                })
            }
        };
    });
    return { type: 'FeatureCollection', features: features };
}

function buildData(labels) {
    return priceNames.map(function (name, i) {
        var l = labels[name];
        return {
            name: name,
            value: priceValues[i],
            itemStyle: { areaColor: priceColor(priceValues[i]) },
            label: l ? {
                show: true,
                fontSize: l[2],
                color: lightLabels.indexOf(name) >= 0 ? '#f2f2f6' : '#1d2029'
            } : { show: false }
        };
    });
}

function mapSeries(mapName, proj, w, h, labels, borderWidth) {
    return {
        type: 'map',
        map: mapName,
        silent: true,
        roam: false,
        projection: proj,
        boundingCoords: [proj.unproject([0, 0]), proj.unproject([w, h])],
        left: 0,
        top: 0,
        width: w,
        height: h,
        label: {
            show: false,
            fontFamily: labelFont,
            formatter: function (p) { return priceTexts[p.name] || '$' + p.value; }
        },
        itemStyle: { areaColor: noDataColor, borderColor: '#f4f1f2', borderWidth: borderWidth },
        emphasis: { disabled: true },
        select: { disabled: true },
        data: buildData(labels)
    };
}

function legendGraphic() {
    var left = 189, width = 329, top = 432, items = [];
    items.push({
        type: 'rect',
        shape: { x: left, y: top, width: width, height: 9, r: 4 },
        style: {
            fill: new echarts.graphic.LinearGradient(0, 0, 1, 0, legendColors.map(function (c, i) {
                return { offset: i / (legendColors.length - 1), color: c };
            }))
        }
    });
    legendLabels.forEach(function (txt, i) {
        var x = left + width * i / (legendLabels.length - 1);
        var inner = i > 0 && i < legendLabels.length - 1;
        if (inner) {
            items.push({ type: 'line', shape: { x1: x, y1: top, x2: x, y2: 449 }, style: { stroke: '#d2d2d4', lineWidth: 1 } });
        }
        items.push({
            type: 'text',
            x: x,
            y: inner ? 458 : 453,
            style: { text: txt, fill: '#2b2b2e', font: '9.5px "Liberation Serif", serif', align: 'center', verticalAlign: 'middle' }
        });
    });
    return items;
}

// the two footer icons
echarts.graphic.registerShape('birdIcon', echarts.graphic.extendPath('M8 1C7 1 6 2 6 3C4 3 2 2 1 1C.5 2 1 3 2 4L1 3.7C1 5 2 6 3 6L2 6C2.5 7 3 7.5 4 7.5C3 8.2 2 8.5 .5 8.4C5 11 10 8 10 3L11 2L10 2.2L10.8 1.2L9.8 1.5C9.3 1.1 8.7 1 8 1Z', {}));
echarts.graphic.registerShape('pinIcon', echarts.graphic.extendPath('M6 0C2.7 0 0 2.7 0 6C0 9.5 3.5 12.5 6 15C8.5 12.5 12 9.5 12 6C12 2.7 9.3 0 6 0ZM6 2.7C7.8 2.7 9.3 4.2 9.3 6C9.3 7.8 7.8 9.3 6 9.3C4.2 9.3 2.7 7.8 2.7 6C2.7 4.2 4.2 2.7 6 2.7Z', {}));

function footerGraphic() {
    return [
        { type: 'text', x: 51, y: 471, style: { text: 'Source: World of Statistics', fill: '#5b6270', font: '8.7px ' + labelFont, verticalAlign: 'middle' } },
        { type: 'text', x: 61, y: 482, style: { text: '@stats_feed', fill: '#5b6270', font: '8.7px ' + labelFont, verticalAlign: 'middle' } },
        { type: 'birdIcon', x: 51.5, y: 477, style: { fill: '#3f8fe0' } },
        { type: 'pinIcon', x: 508, y: 471, style: { fill: '#2d7fd6' } },
        {
            type: 'text', x: 527, y: 478,
            style: {
                text: '{a|Created with }{b|PlotSet.com}',
                verticalAlign: 'middle',
                rich: {
                    a: { fill: '#4a4f57', font: '15.2px ' + labelFont },
                    b: { fill: '#2d6fc4', font: 'bold 15px ' + labelFont }
                }
            }
        },
        { type: 'rect', shape: { x: 0, y: 496, width: 714, height: 2 }, style: { fill: '#3d4045' } }
    ];
}

echarts.registerMap('world', buildGeoJson(worldLabels));
echarts.registerMap('europe', buildGeoJson(insetLabels));

var worldProj = miller(355, 1.89, 281, 121);
var insetProj = miller(299 - 247, 3.67, 371 - 38, 245);

var titleText = {
    type: 'text',
    x: 351.5,
    y: 21,
    scaleX: 0.875,
    style: {
        text: 'Average Cinema Ticket Price Worldwide (USD)',
        fill: '#1f4a87',
        font: '26px ' + labelFont,
        align: 'center',
        verticalAlign: 'middle'
    }
};

var mainChart = echarts.init(document.getElementById('main'));
mainChart.setOption({
    animation: false,
    backgroundColor: pageColor,
    series: [
        mapSeries('world', worldProj, 714, 498, worldLabels, 0.6),
        {
            type: 'pie',
            silent: true,
            center: [38, 476],
            radius: [0, 9],
            label: { show: false },
            data: [{ value: 48, itemStyle: { color: '#4f79bd' } }, { value: 37, itemStyle: { color: '#dd8a4c' } }, { value: 15, itemStyle: { color: '#d8c08e' } }]
        }
    ],
    graphic: [titleText].concat(legendGraphic(), footerGraphic())
});

var insetChart = echarts.init(document.getElementById('inset'));
insetChart.setOption({
    animation: false,
    backgroundColor: '#ffffff',
    series: [mapSeries('europe', insetProj, 179, 200, insetLabels, 0.8)]
});
</script>
</body>
</html>
